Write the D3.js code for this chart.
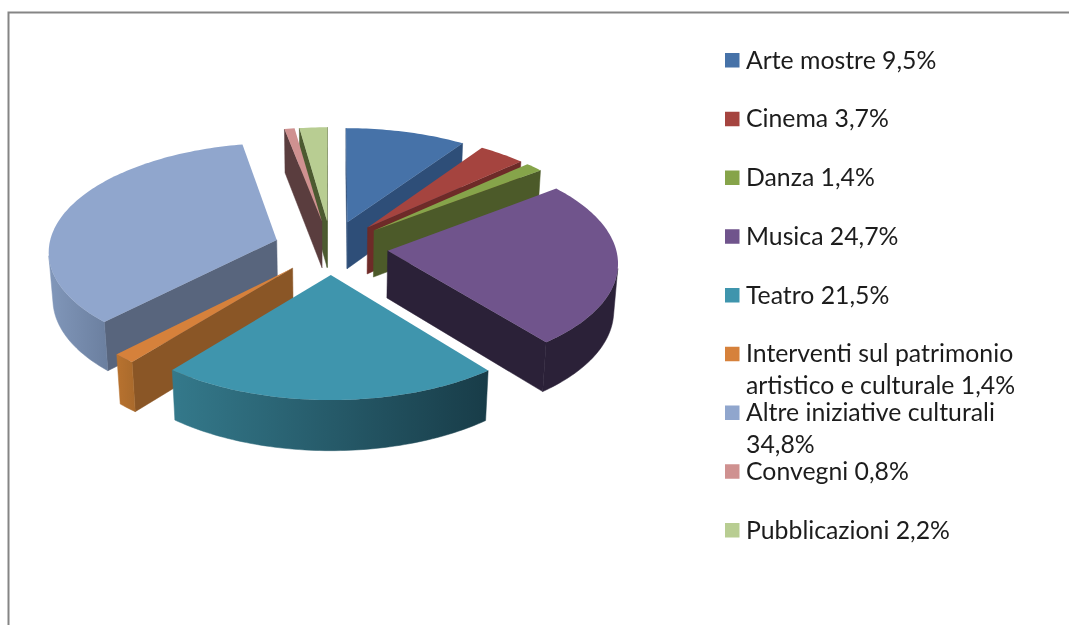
<!DOCTYPE html>
<html>
<head>
<meta charset="utf-8">
<script src="https://cdnjs.cloudflare.com/ajax/libs/d3/7.8.5/d3.min.js"></script>
<style>
  html, body { margin: 0; padding: 0; background: #fff; }
  svg { display: block; filter: blur(0.5px); }
  text { font-family: Lato, "Open Sans", sans-serif; font-size: 24.8px; fill: #1c1c1c; }
</style>
</head>
<body>
<div id="chart"></div>
<script>
// chart data
var categories = ["Arte mostre", "Cinema", "Danza", "Musica", "Teatro",
  "Interventi sul patrimonio artistico e culturale", "Altre iniziative culturali",
  "Convegni", "Pubblicazioni"];
var values = [9.5, 3.7, 1.4, 24.7, 21.5, 1.4, 34.8, 0.8, 2.2];

// colours per slice
var topColors  = ["#4672a8", "#a5443f", "#86a44a", "#70548c", "#3f95ad", "#d6813b", "#90a6cd", "#cf9190", "#b8cd92"];
var wallColors = ["#2e4e78", "#6e2b28", "#4c5a29", "#2b2138", "#1a3f4b", "#8a5626", "#58657d", "#5a3d3e", "#4c5a30"];
var rimLeft    = ["#2e4e78", "#6e2b28", "#4c5a29", "#2b2138", "#34798b", "#b8722f", "#8197ba", "#5a3d3e", "#4c5a30"];
var rimRight   = ["#2e4e78", "#6e2b28", "#4c5a29", "#2b2138", "#183c48", "#a96a2c", "#6b7f9f", "#5a3d3e", "#4c5a30"];

var width = 1069, height = 625;

var svg = d3.select("#chart").append("svg")
  .attr("width", width)
  .attr("height", height);

var defs = svg.append("defs");

// frame of the chart area
svg.append("path")
  .attr("d", d3.line()([[8.5, height], [8.5, 12.5], [width, 12.5]]))
  .attr("fill", "none")
  .attr("stroke", "#858585")
  .attr("stroke-width", 2);

// camera: pie lies in a plane, radius 1, thickness 1 on Z
var cx = 331, cy = 247.5, rx = 228, ry = 107.6;
var persp = 0.0946, lift = 47.7, shrink = 0.015, explode = 0.25;

function project(X, Y, Z) {
  var w = 1 - persp * Y + shrink * Z;
  return [cx + rx * X / w, cy + (ry * Y + lift * Z) / w];
}

var line = d3.line();

var slices = d3.pie().sort(null).startAngle(0).endAngle(2 * Math.PI)(values).map(function(d, i) {
  var mid = (d.startAngle + d.endAngle) / 2;
  var ex = explode * Math.sin(mid), ey = -explode * Math.cos(mid);
  var steps = Math.max(2, Math.ceil((d.endAngle - d.startAngle) / 0.02));
  var rim = d3.range(steps + 1).map(function(k) {
    var a = d.startAngle + (d.endAngle - d.startAngle) * k / steps;
    return [ex + Math.sin(a), ey - Math.cos(a)];
  });
  return { i: i, ex: ex, ey: ey, rim: rim, depth: ey };
});

// back to front, like the original renderer
slices.sort(function(a, b) { return d3.ascending(a.depth, b.depth); });

var pieG = svg.append("g");

slices.forEach(function(s) {
  var g = pieG.append("g");
  var apex = [s.ex, s.ey];
  var n = s.rim.length - 1;

  function wall(p, q) {
    return [project(p[0], p[1], 0), project(q[0], q[1], 0), project(q[0], q[1], 1), project(p[0], p[1], 1)];
  }
  // faces turned away from the camera are skipped
  function visible(quad) { return d3.polygonArea(quad) > 0; }

  [[apex, s.rim[0]], [s.rim[n], apex]].forEach(function(e) {
    var quad = wall(e[0], e[1]);
    if (visible(quad)) {
      g.append("path").attr("d", line(quad) + "Z")
        .attr("fill", wallColors[s.i]).attr("stroke", wallColors[s.i]).attr("stroke-width", 0.5);
    }
  });

  // outer curved face, one band with a left to right gradient
  var shown = d3.pairs(s.rim).filter(function(e) { return visible(wall(e[0], e[1])); });
  if (shown.length) {
    var upper = [], lower = [];
    shown.forEach(function(e, k) {
      var quad = wall(e[0], e[1]);
      if (k === 0) { upper.push(quad[0]); lower.push(quad[3]); }
      upper.push(quad[1]);
      lower.push(quad[2]);
    });
    var band = upper.concat(lower.reverse());
    var xs = d3.extent(band, function(p) { return p[0]; });
    var id = "rim" + s.i;
    var grad = defs.append("linearGradient").attr("id", id)
      .attr("gradientUnits", "userSpaceOnUse")
      .attr("x1", xs[0]).attr("x2", xs[1]).attr("y1", 0).attr("y2", 0);
    grad.append("stop").attr("offset", 0).attr("stop-color", rimLeft[s.i]);
    grad.append("stop").attr("offset", 1).attr("stop-color", rimRight[s.i]);
    g.append("path").attr("d", line(band) + "Z")
      .attr("fill", "url(#" + id + ")")
      .attr("stroke", "url(#" + id + ")")
      .attr("stroke-width", 0.5);
  }

  var topPts = [apex].concat(s.rim).map(function(p) { return project(p[0], p[1], 0); });
  g.append("path").attr("d", line(topPts) + "Z").attr("fill", topColors[s.i]);
});

// legend
var legendY = d3.scalePoint().domain(categories).range([60.5, 530.5]);
var fmt = d3.format(".1f");

function wrapWords(str, maxChars) {
  var lines = [""];
  str.split(" ").forEach(function(word) {
    var cur = lines[lines.length - 1];
    var next = cur ? cur + " " + word : word;
    if (next.length > maxChars) lines.push(word);
    else lines[lines.length - 1] = next;
  });
  return lines;
}

var legend = svg.append("g").selectAll("g")
  .data(categories)
  .enter().append("g")
  .attr("transform", function(d) { return "translate(725," + legendY(d) + ")"; });

legend.append("rect")
  .attr("x", 0).attr("y", -7.5)
  .attr("width", 14.5).attr("height", 14.5)
  .attr("fill", function(d, i) { return topColors[i]; });

legend.append("text")
  .attr("x", 21)
  .attr("y", 8)
  .selectAll("tspan")
  .data(function(d, i) { return wrapWords(d + " " + fmt(values[i]).replace(".", ",") + "%", 26); })
  .enter().append("tspan")
  .attr("x", 21)
  .attr("dy", function(d, i) { return i ? 31.5 : 0; })
  .text(function(d) { return d; });
</script>
</body>
</html>
